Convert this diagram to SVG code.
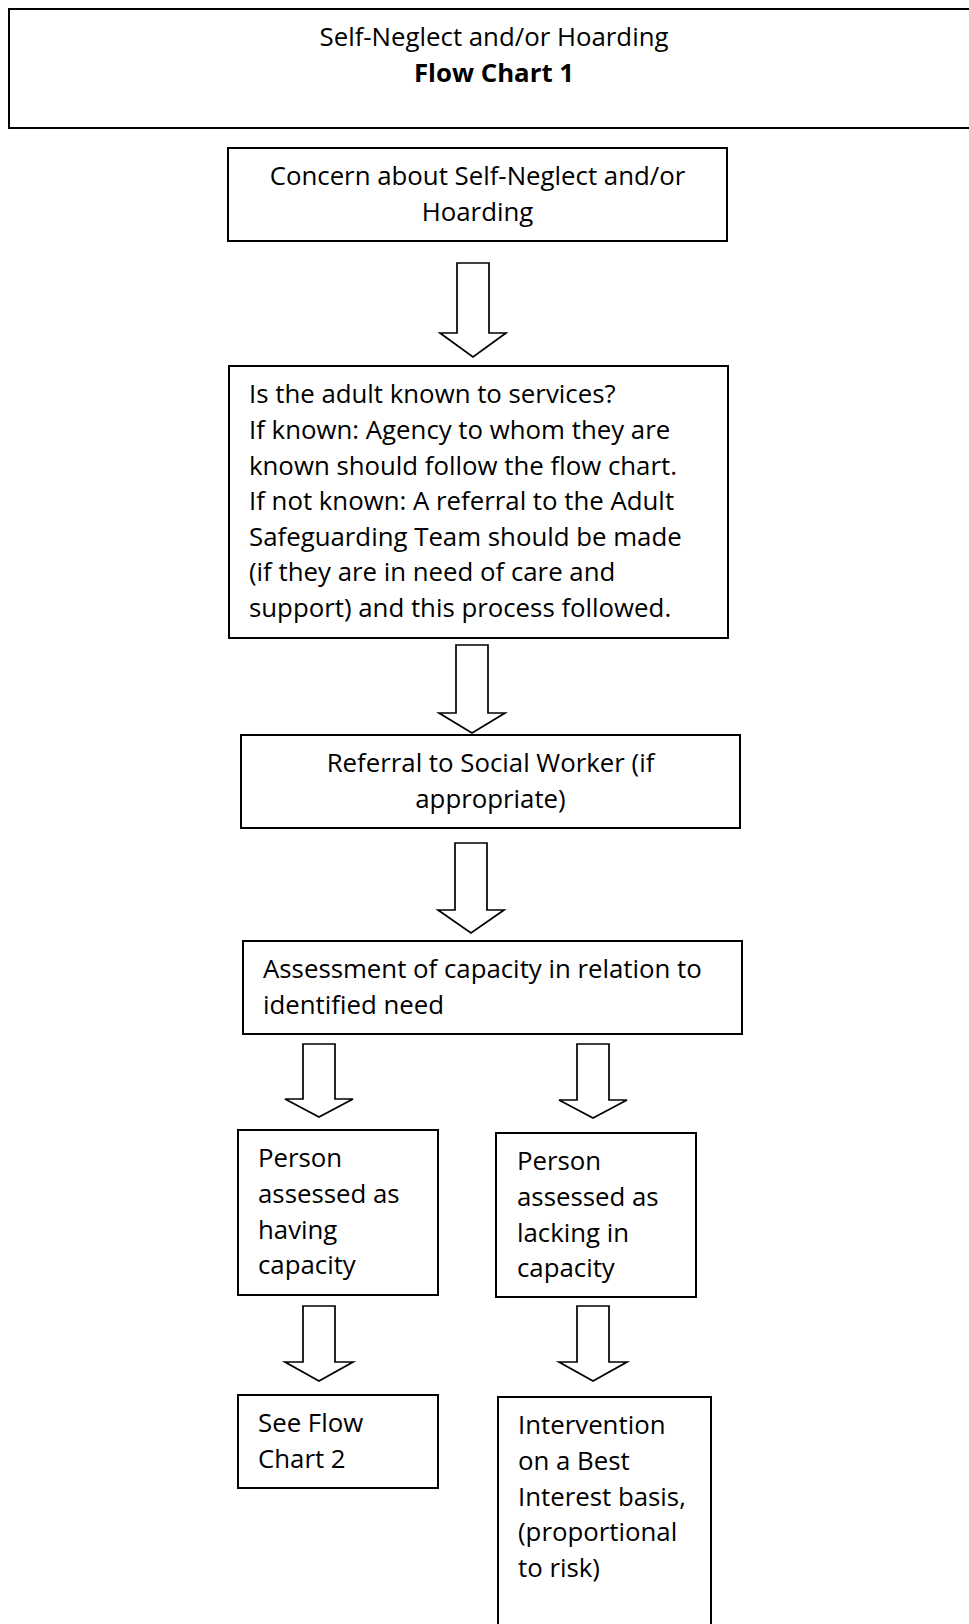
<svg xmlns="http://www.w3.org/2000/svg" width="969" height="1624" viewBox="0 0 969 1624">
<style>
  .box { fill: #ffffff; stroke: #000000; stroke-width: 2; }
  .arrow { fill: #ffffff; stroke: #000000; stroke-width: 1.7; stroke-linejoin: miter; }
  text { font-family: "Open Sans", "Liberation Sans", sans-serif; font-size: 25.8px; fill: #000000; }
  .c { text-anchor: middle; }
  .b { font-weight: 700; }
</style>
<rect width="969" height="1624" fill="#ffffff"/>

<g id="header">
  <rect class="box" x="9" y="9" width="990" height="119"/>
  <text class="c" x="494" y="46.4">Self-Neglect and/or Hoarding</text>
  <text class="c b" x="494" y="82">Flow Chart 1</text>
</g>

<g id="concern">
  <rect class="box" x="228" y="148" width="499" height="93"/>
  <text class="c" x="477.5" y="185.4">Concern about Self-Neglect and/or</text>
  <text class="c" x="477.5" y="221">Hoarding</text>
</g>

<g id="known">
  <rect class="box" x="229" y="366" width="499" height="272"/>
  <text x="249" y="403.4">Is the adult known to services?</text>
  <text x="249" y="439">If known: Agency to whom they are</text>
  <text x="249" y="474.6">known should follow the flow chart.</text>
  <text x="249" y="510.2">If not known: A referral to the Adult</text>
  <text x="249" y="545.8">Safeguarding Team should be made</text>
  <text x="249" y="581.4">(if they are in need of care and</text>
  <text x="249" y="617">support) and this process followed.</text>
</g>

<g id="referral">
  <rect class="box" x="241" y="735" width="499" height="93"/>
  <text class="c" x="490.5" y="772.4">Referral to Social Worker (if</text>
  <text class="c" x="490.5" y="808">appropriate)</text>
</g>

<g id="assessment">
  <rect class="box" x="243" y="941" width="499" height="93"/>
  <text x="263" y="978.4">Assessment of capacity in relation to</text>
  <text x="263" y="1014">identified need</text>
</g>

<g id="has-capacity">
  <rect class="box" x="238" y="1130" width="200" height="165"/>
  <text x="258" y="1167.4">Person</text>
  <text x="258" y="1203">assessed as</text>
  <text x="258" y="1238.6">having</text>
  <text x="258" y="1274.2">capacity</text>
</g>

<g id="lacks-capacity">
  <rect class="box" x="496" y="1133" width="200" height="164"/>
  <text x="517" y="1170.4">Person</text>
  <text x="517" y="1206">assessed as</text>
  <text x="517" y="1241.6">lacking in</text>
  <text x="517" y="1277.2">capacity</text>
</g>

<g id="flow-chart-2">
  <rect class="box" x="238" y="1395" width="200" height="93"/>
  <text x="258" y="1432.4">See Flow</text>
  <text x="258" y="1468">Chart 2</text>
</g>

<g id="intervention">
  <rect class="box" x="498" y="1397" width="213" height="260"/>
  <text x="518" y="1434.4">Intervention</text>
  <text x="518" y="1470">on a Best</text>
  <text x="518" y="1505.6">Interest basis,</text>
  <text x="518" y="1541.2">(proportional</text>
  <text x="518" y="1576.8">to risk)</text>
</g>

<g id="connectors">
  <polygon class="arrow" points="457,263 489,263 489,333 506,333 473,357 440,333 457,333"/>
  <polygon class="arrow" points="456,645 488,645 488,713 505,713 472,733 439,713 456,713"/>
  <polygon class="arrow" points="455,843 487,843 487,910 504,910 471,933 438,910 455,910"/>
  <polygon class="arrow" points="303,1044 335,1044 335,1099 353,1099 319,1117 285,1099 303,1099"/>
  <polygon class="arrow" points="577,1044 609,1044 609,1100 627,1100 593,1118 559,1100 577,1100"/>
  <polygon class="arrow" points="303,1306 335,1306 335,1362 353,1362 319,1381 285,1362 303,1362"/>
  <polygon class="arrow" points="577,1306 609,1306 609,1362 627,1362 593,1381 559,1362 577,1362"/>
</g>
</svg>
